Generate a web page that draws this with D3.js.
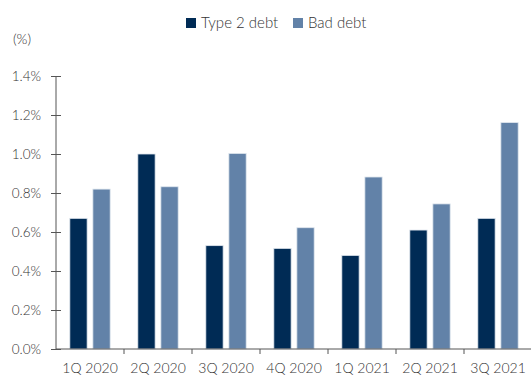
<!DOCTYPE html>
<html><head><meta charset="utf-8">
<script src="https://cdn.jsdelivr.net/npm/d3@7"></script>
<style>body{margin:0;background:#fff}svg{display:block}text{font-family:Lato,"Noto Sans",sans-serif;font-weight:300;fill:#333}</style>
</head><body><svg id="c" width="531" height="378"></svg>
<script>
const categories = ["1Q 2020","2Q 2020","3Q 2020","4Q 2020","1Q 2021","2Q 2021","3Q 2021"];
const seriesNames = ["Type 2 debt","Bad debt"];
const type2Debt = [0.67,1.00,0.53,0.516,0.48,0.61,0.67];
const badDebt = [0.82,0.832,1.003,0.622,0.882,0.744,1.161];
const yTicks = [0,0.2,0.4,0.6,0.8,1.0,1.2,1.4];
const colors = ["#002b55","#6282a8"];

const svg = d3.select("#c");
const x = d3.scaleBand().domain(categories).range([56,532]);
const y = d3.scaleLinear().domain([0,1.4]).range([349,76]);
const inner = d3.scaleBand().domain(seriesNames).range([0,x.bandwidth()]).paddingInner(0.25).paddingOuter(0.6);

const data = categories.map((c,i)=>({c, vals:[type2Debt[i],badDebt[i]]}));
const g = svg.append("g");
data.forEach(d=>{
  d.vals.forEach((v,j)=>{
    g.append("rect")
      .attr("x", x(d.c)+inner(seriesNames[j]))
      .attr("y", y(v))
      .attr("width", inner.bandwidth())
      .attr("height", y(0)-y(v))
      .attr("fill", colors[j])
      .attr("stroke","#dfe6ee").attr("stroke-width",0.8);
  });
});

// y axis
const ya = svg.append("g").attr("transform","translate(56,0)")
  .call(d3.axisLeft(y).tickValues(yTicks).tickFormat(d=>d.toFixed(1)+"%").tickSize(5).tickPadding(10));
ya.select(".domain").attr("stroke","#555").attr("d","M0,76V349");
ya.selectAll(".tick line").attr("stroke","#555").attr("x1",-5).attr("x2",5);
ya.selectAll("text").style("font-size","13.5px").attr("fill","#333");

// x axis
const xa = svg.append("g").attr("transform","translate(0,349)")
  .call(d3.axisBottom(x).tickSize(0).tickPadding(14));
xa.select(".domain").attr("stroke","#555").attr("d","M56,0H531");
xa.selectAll("text").style("font-size","14px").attr("fill","#333");
xa.selectAll(".bt").data(categories.slice(1)).enter().append("line")
  .attr("x1",d=>x(d)).attr("x2",d=>x(d)).attr("y1",0).attr("y2",5).attr("stroke","#555");

svg.append("text").attr("x",13).attr("y",44).text("(%)").style("font-size","14px");

// legend
const legX = [186,293];
seriesNames.forEach((s,j)=>{
  svg.append("rect").attr("x",legX[j]).attr("y",18).attr("width",10).attr("height",10).attr("fill",colors[j]);
  svg.append("text").attr("x",legX[j]+15).attr("y",28).text(s).style("font-size","15px");
});
</script></body></html>
